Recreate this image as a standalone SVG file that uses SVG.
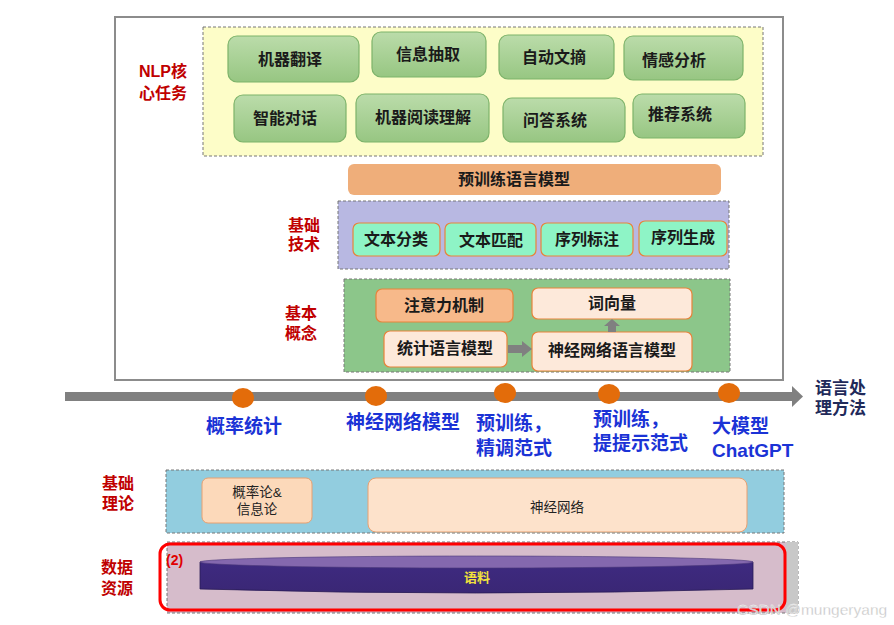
<svg xmlns="http://www.w3.org/2000/svg" width="894" height="625" viewBox="0 0 894 625">
<style>
text{font-family:"Liberation Sans","Noto Sans CJK SC",sans-serif;}
.t{font-size:16px;font-weight:bold;fill:#1a1a1a;text-anchor:middle;}
.red{font-size:16px;font-weight:bold;fill:#C00000;text-anchor:middle;}
.blue{font-size:19px;font-weight:bold;fill:#1B33D6;}
.gbox{fill:url(#gg);stroke:#7DB36A;stroke-width:1.2;}
.mint{fill:#8EF4C6;stroke:#E8833A;stroke-width:1.2;}
.peach{fill:#FDE9DA;stroke:#E8833A;stroke-width:1.2;}
.dash{stroke:#777;stroke-width:1;stroke-dasharray:3,2;}
.dot{fill:#E36C0A;}
.small{font-size:13.5px;fill:#222;text-anchor:middle;}
</style>
<defs>
<linearGradient id="gg" x1="0" y1="0" x2="0" y2="1">
<stop offset="0" stop-color="#BBDCAA"/>
<stop offset="1" stop-color="#97C682"/>
</linearGradient>
<linearGradient id="cyl" x1="0" y1="0" x2="0" y2="1">
<stop offset="0" stop-color="#3E2A80"/>
<stop offset="1" stop-color="#3A2775"/>
</linearGradient>
</defs>

<!-- outer frame -->
<rect x="115" y="17" width="668" height="363" fill="#fff" stroke="#8C8C8C" stroke-width="2"/>

<g id="nlp-core">
<rect x="203" y="27" width="560" height="129" fill="#FDFDC8" class="dash"/>
<text class="red" x="163" y="77">NLP核</text>
<text class="red" x="163" y="99">心任务</text>
</g>
<g id="n-jqfy"><rect class="gbox" x="228" y="36" width="131" height="46" rx="9"/><text class="t" x="290" y="65">机器翻译</text></g>
<g id="n-xxcq"><rect class="gbox" x="372" y="32" width="114" height="45" rx="9"/><text class="t" x="428" y="60">信息抽取</text></g>
<g id="n-zdwz"><rect class="gbox" x="499" y="35" width="115" height="44" rx="9"/><text class="t" x="554" y="63">自动文摘</text></g>
<g id="n-qgfx"><rect class="gbox" x="624" y="36" width="119" height="44" rx="9"/><text class="t" x="674" y="66">情感分析</text></g>
<g id="n-zndh"><rect class="gbox" x="234" y="95" width="112" height="47" rx="9"/><text class="t" x="285" y="124">智能对话</text></g>
<g id="n-jqydlj"><rect class="gbox" x="356" y="94" width="133" height="48" rx="9"/><text class="t" x="423" y="123">机器阅读理解</text></g>
<g id="n-wdxt"><rect class="gbox" x="503" y="98" width="122" height="44" rx="9"/><text class="t" x="555" y="126">问答系统</text></g>
<g id="n-tjxt"><rect class="gbox" x="633" y="94" width="112" height="44" rx="9"/><text class="t" x="680" y="120">推荐系统</text></g>

<g id="n-pretrain"><rect x="348" y="164" width="373" height="31" rx="6" fill="#EFAE7A"/><text class="t" x="514" y="185">预训练语言模型</text></g>

<g id="basic-tech">
<rect x="338" y="201" width="391" height="68" fill="#B8B8E2" class="dash"/>
<text class="red" x="304" y="231">基础</text>
<text class="red" x="304" y="250">技术</text>
</g>
<g id="n-wbfl"><rect class="mint" x="353" y="223" width="87" height="33" rx="6"/><text class="t" x="396" y="245">文本分类</text></g>
<g id="n-wbpp"><rect class="mint" x="445" y="223" width="91" height="33" rx="6"/><text class="t" x="491" y="246">文本匹配</text></g>
<g id="n-xlbz"><rect class="mint" x="541" y="223" width="92" height="33" rx="6"/><text class="t" x="587" y="245">序列标注</text></g>
<g id="n-xlsc"><rect class="mint" x="639" y="221" width="88" height="35" rx="6"/><text class="t" x="683" y="243">序列生成</text></g>

<g id="basic-concept">
<rect x="344" y="279" width="386" height="93" fill="#8CC68A" class="dash"/>
<text class="red" x="301" y="319">基本</text>
<text class="red" x="301" y="339">概念</text>
</g>
<g id="n-zyljz"><rect x="376" y="289" width="137" height="33" rx="6" fill="#F7B98A" stroke="#E8833A" stroke-width="1.2"/><text class="t" x="444" y="311">注意力机制</text></g>
<g id="n-cxl"><rect class="peach" x="532" y="288" width="160" height="31" rx="6"/><text class="t" x="612" y="309">词向量</text></g>
<g id="n-tjyy"><rect class="peach" x="384" y="331" width="123" height="36" rx="6"/><text class="t" x="445" y="354">统计语言模型</text></g>
<g id="n-sjwl"><rect class="peach" x="532" y="332" width="160" height="39" rx="6"/><text class="t" x="612" y="356">神经网络语言模型</text></g>

<g id="connectors">
<polygon points="508,345 522,345 522,341 532,349 522,357 522,353 508,353" fill="#808080"/>
<polygon points="608,332 608,326 604,326 612,319 620,326 616,326 616,332" fill="#808080"/>
</g>

<g id="timeline">
<rect x="65" y="392" width="728" height="9" fill="#808080"/>
<polygon points="792,386 803,396.5 792,407" fill="#808080"/>
<ellipse class="dot" cx="243" cy="398" rx="11" ry="10"/>
<ellipse class="dot" cx="376" cy="396" rx="11" ry="10"/>
<ellipse class="dot" cx="505" cy="393" rx="11" ry="10"/>
<ellipse class="dot" cx="609" cy="394" rx="11" ry="10"/>
<ellipse class="dot" cx="729" cy="393" rx="11" ry="10"/>
<text x="815" y="394" style="font-size:17px;font-weight:bold;fill:#1F2A5A">语言处</text>
<text x="815" y="414" style="font-size:17px;font-weight:bold;fill:#1F2A5A">理方法</text>
<text class="blue" x="206" y="433">概率统计</text>
<text class="blue" x="346" y="429">神经网络模型</text>
<text class="blue" x="476" y="430">预训练，</text>
<text class="blue" x="476" y="455">精调范式</text>
<text class="blue" x="593" y="426">预训练，</text>
<text class="blue" x="593" y="450">提提示范式</text>
<text class="blue" x="712" y="433">大模型</text>
<text class="blue" x="712" y="457">ChatGPT</text>
</g>

<g id="basic-theory">
<rect x="166" y="470" width="618" height="63" fill="#92CDDF" class="dash"/>
<text class="red" x="118" y="489">基础</text>
<text class="red" x="118" y="509">理论</text>
</g>
<g id="n-gll"><rect x="202" y="478" width="110" height="45" rx="6" fill="#FCD9BA" stroke="#E8A070" stroke-width="1"/><text class="small" x="257" y="497">概率论&amp;</text><text class="small" x="257" y="514">信息论</text></g>
<g id="n-sjwlb"><rect x="368" y="478" width="379" height="54" rx="8" fill="#FDE2CB" stroke="#E8A070" stroke-width="1"/><text class="small" x="557" y="512">神经网络</text></g>

<g id="data-resource">
<rect x="167" y="542" width="631" height="71" fill="#D6BCCB" class="dash"/>
<rect x="786" y="542" width="12" height="71" fill="#C8C8C8"/>
<rect x="160" y="544" width="625" height="66" rx="10" fill="none" stroke="#FF0000" stroke-width="3"/>
<text class="red" x="117" y="573">数据</text>
<text class="red" x="117" y="594">资源</text>
<text x="166" y="565" style="font-size:14px;font-weight:bold;fill:#E00000">(2)</text>
</g>
<g id="n-yl">
<path d="M200,562 L200,589 Q476,597 753,589 L753,562 Z" fill="url(#cyl)" stroke="#2A1C55" stroke-width="0.8"/>
<ellipse cx="476.5" cy="562" rx="276.5" ry="6" fill="#8468AE" stroke="#4A3878" stroke-width="0.6"/>
<text x="477" y="582" style="font-size:13px;font-weight:bold;fill:#F2E23A;text-anchor:middle">语料</text>
</g>

<text x="737" y="615" style="font-size:15.5px;fill:#C4C4C4;stroke:#fff;stroke-width:0.3">CSDN @mungeryang</text>
</svg>
